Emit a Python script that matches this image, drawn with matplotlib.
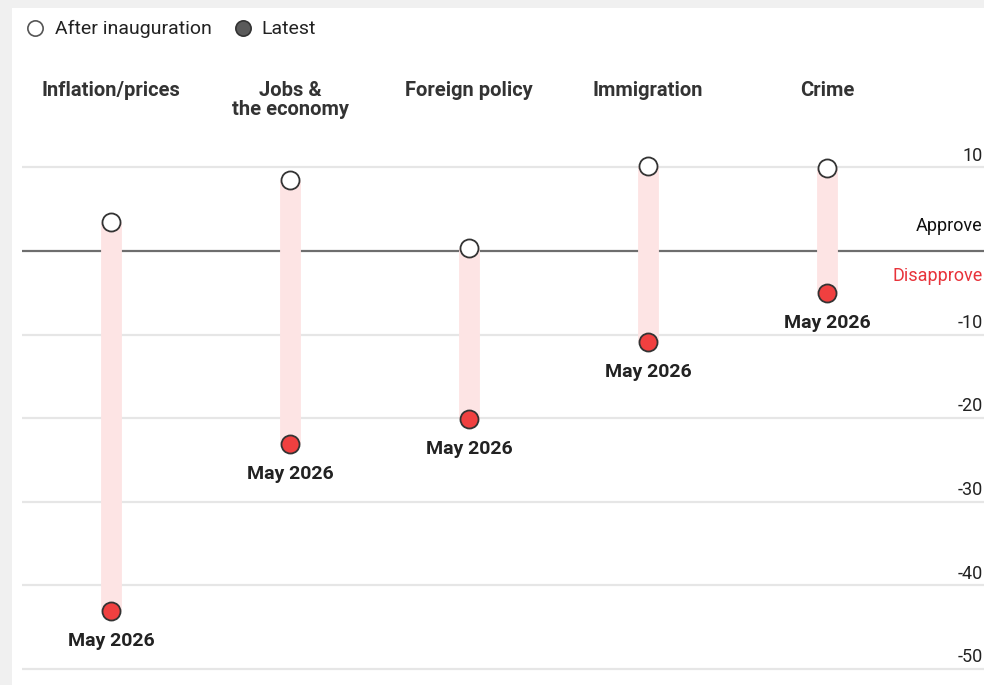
import matplotlib.pyplot as plt
from matplotlib.patches import Rectangle

plt.rcParams['font.family'] = ['Roboto', 'DejaVu Sans']

# net approval by issue: shortly after inauguration vs. latest poll
categories = ['Inflation/prices', 'Jobs &\nthe economy', 'Foreign policy', 'Immigration', 'Crime']
after_inauguration = [3.5, 8.5, 0.3, 10.2, 9.9]
latest = [-43.1, -23.1, -20.1, -10.9, -5.0]
latest_label = 'May 2026'
y_ticks = [10, -10, -20, -30, -40, -50]
grid_values = [10, -10, -20, -30, -40, -50]

W, H = 984, 685
fig = plt.figure(figsize=(W / 100, H / 100), dpi=100, facecolor='#f0f0f0')

# white card on the grey page
fig.patches.append(Rectangle((12 / W, 0), 1, 1 - 8 / H, transform=fig.transFigure,
                             facecolor='white', edgecolor='none', zorder=-5))

# axes spans from the left gridline start to the right edge
ax = fig.add_axes([22 / W, 0, 1 - 22 / W, 1 - 150 / H])
ax.set_zorder(2)
ax.set_facecolor('none')
px_per_unit = 8.36
ax.set_ylim((251 - 685) / px_per_unit, (251 - 150) / px_per_unit)
ax.set_xlim(-(111 - 22) / 179, (984 - 111) / 179)
ax.axis('off')

for g in grid_values:
    ax.axhline(g, color='#e6e6e6', lw=1.6, zorder=1)
ax.axhline(0, color='#6e6e6e', lw=1.6, zorder=1)

x = list(range(len(categories)))
for i in x:
    ax.plot([i, i], [after_inauguration[i], latest[i]], color='#fde4e4', lw=15,
            solid_capstyle='butt', zorder=2)
ax.plot(x, after_inauguration, 'o', ms=13, mfc='white', mec='#333333', mew=1.3, zorder=3)
ax.plot(x, latest, 'o', ms=13, mfc='#f04040', mec='#333333', mew=1.3, zorder=3)

for i in x:
    ax.annotate(latest_label, (i, latest[i]), xytext=(0, -15), textcoords='offset points',
                ha='center', va='top', fontsize=14, fontweight='bold', color='#222222')

# y tick labels sit above their gridlines at the right edge
for t in y_ticks:
    ax.annotate(str(t), (1, t), xycoords=('axes fraction', 'data'), xytext=(-1, 2),
                textcoords='offset points', ha='right', va='bottom', fontsize=13,
                color='#222222', annotation_clip=False)
ax.annotate('Approve', (1, 0), xycoords=('axes fraction', 'data'), xytext=(-1, 18),
            textcoords='offset points', ha='right', va='center', fontsize=13,
            color='#111111', annotation_clip=False)
ax.annotate('Disapprove', (1, 0), xycoords=('axes fraction', 'data'), xytext=(-1, -18),
            textcoords='offset points', ha='right', va='center', fontsize=13,
            color='#e8333a', annotation_clip=False)

# category headers
for i, name in enumerate(categories):
    xf = (111 + 179 * i) / W
    fig.text(xf, 1 - 81 / H, name, ha='center', va='top', fontsize=14.5, fontweight='bold',
             color='#333333', linespacing=1.0)

# legend
fig.add_artist(plt.Line2D([35 / W], [1 - 28 / H], marker='o', ms=11, mfc='white',
                          mec='#555555', mew=1.2, transform=fig.transFigure))
fig.text(55 / W, 1 - 29 / H, 'After inauguration', ha='left', va='center', fontsize=14,
         color='#222222')
fig.add_artist(plt.Line2D([243 / W], [1 - 28 / H], marker='o', ms=11, mfc='#5a5a5a',
                          mec='#333333', mew=1.2, transform=fig.transFigure))
fig.text(261 / W, 1 - 29 / H, 'Latest', ha='left', va='center', fontsize=14, color='#222222')

fig.savefig('out.png', dpi=100, facecolor=fig.get_facecolor())
